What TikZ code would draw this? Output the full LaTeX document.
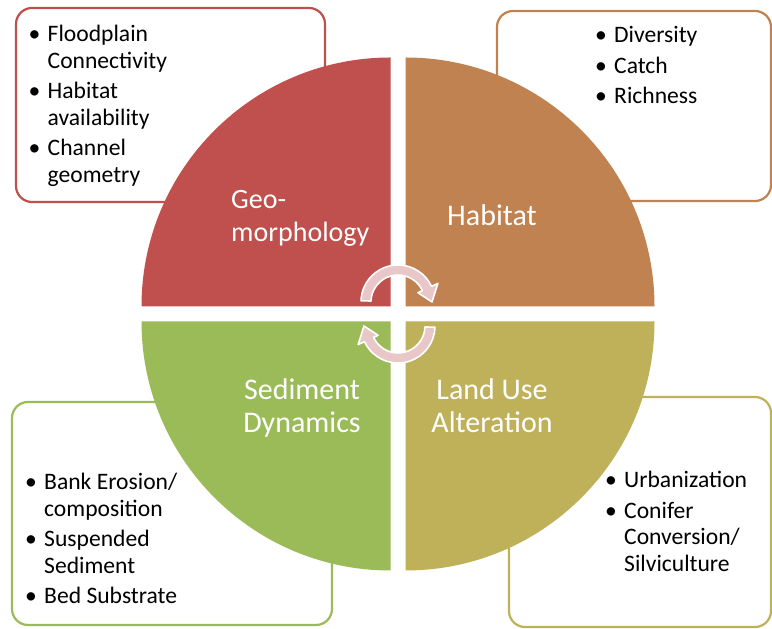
\documentclass[tikz,border=0pt]{standalone}
\usepackage{fontspec}
\setmainfont{Carlito}

\definecolor{geoRed}{HTML}{C0504D}
\definecolor{habOrange}{HTML}{C08250}
\definecolor{sedGreen}{HTML}{9BBB59}
\definecolor{landOlive}{HTML}{BFB15A}
\definecolor{cycPink}{HTML}{E9C7C8}

% voce di elenco puntato con rientro sospeso
\newcommand\bpt[1]{\par\hangindent=19pt\hangafter=1\noindent\hbox to 19pt{\textbullet\hfil}#1}
\newcommand\blist[1]{\parbox[t]{240pt}{\rightskip=0pt plus 1fil\relax\setlength\parskip{4pt}#1}}

\begin{document}
\begin{tikzpicture}[
    x=1pt, y=1pt,
    font=\fontsize{23.6}{26.5}\selectfont,
    box/.style={draw, line width=2.2pt, rounded corners=16pt, fill=white},
    lbl/.style={text=white, inner sep=0pt, font=\fontsize{30}{33}\selectfont},
    lst/.style={anchor=base west, inner sep=0pt},
    cyc/.style={fill=cycPink, draw=white, line width=1.6pt, line join=round}
]
\useasboundingbox (0,0) rectangle (772,629);

% riquadri esterni
\draw[box, draw=geoRed]    (16,427) rectangle (325,621);
\draw[box, draw=habOrange] (497,428) rectangle (771,618);
\draw[box, draw=sedGreen]  (12,4) rectangle (332,227);
\draw[box, draw=landOlive] (509,2) rectangle (771,232);

% spicchi del cerchio
\fill[geoRed]    (390.5,322.5) -- ++(0,249) arc[start angle=90, end angle=180, radius=249] -- cycle;
\fill[habOrange] (405.5,322.5) -- ++(249,0) arc[start angle=0, end angle=90, radius=249] -- cycle;
\fill[sedGreen]  (390.5,307.5) -- ++(-249,0) arc[start angle=180, end angle=270, radius=249] -- cycle;
\fill[landOlive] (405.5,307.5) -- ++(0,-249) arc[start angle=270, end angle=360, radius=249] -- cycle;

\node[lbl, anchor=base west, font=\fontsize{28}{33}\selectfont] (geo) at (231,420)
    {\parbox[t]{150pt}{\raggedright Geo-\\morphology}};
\node[lbl, anchor=base] (hab) at (492,403) {Habitat};
\node[lbl, anchor=base] (sed) at (302,229) {\parbox[t]{170pt}{\centering Sediment\\Dynamics}};
\node[lbl, anchor=base] (land) at (492,229) {\parbox[t]{170pt}{\centering Land Use\\Alteration}};

\node[lst] (geoList) at (28.5,587) {\blist{\bpt{Floodplain\\Connectivity}\bpt{Habitat\\availability}\bpt{Channel\\geometry}}};
\node[lst] (habList) at (595,586) {\blist{\bpt{Diversity}\bpt{Catch}\bpt{Richness}}};
\node[lst] (sedList) at (25,139) {\blist{\bpt{Bank Erosion/\\composition}\bpt{Suspended\\Sediment}\bpt{Bed Substrate}}};
\node[lst] (landList) at (605,141) {\blist{\bpt{Urbanization}\bpt{Conifer\\Conversion/\\Silviculture}}};

% frecce circolari al centro
\begin{scope}[shift={(398,327)}]
  \draw[cyc] (178:37) arc[start angle=178, end angle=25, radius=37] -- (25:44) -- (0:34)
    -- (25:22) -- (25:27) arc[start angle=25, end angle=178, radius=27] -- cycle;
\end{scope}
\begin{scope}[shift={(398,303)}, rotate=180]
  \draw[cyc] (178:37) arc[start angle=178, end angle=25, radius=37] -- (25:44) -- (0:34)
    -- (25:22) -- (25:27) arc[start angle=25, end angle=178, radius=27] -- cycle;
\end{scope}
\end{tikzpicture}
\end{document}
